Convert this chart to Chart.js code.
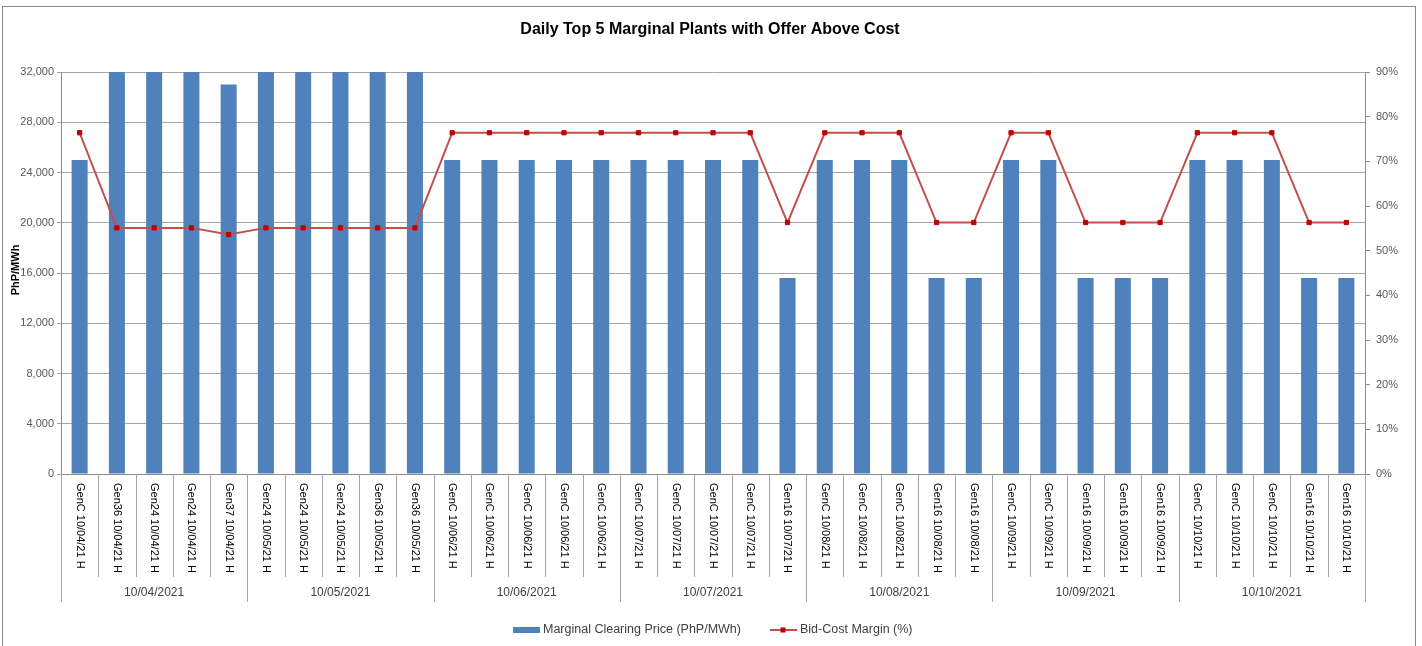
<!DOCTYPE html>
<html lang="en">
<head>
  <meta charset="UTF-8">
  <title>Daily Top 5 Marginal Plants with Offer Above Cost</title>
  <style>
    body { margin: 0; background: #fff; }
    canvas { display: block; }
  </style>
</head>
<body>
  <canvas id="myChart" width="1422" height="646"></canvas>

  <script src="https://cdn.jsdelivr.net/npm/chart.js"></script>
  <script>
    // chart data
    const plantLabels = [
      'GenC 10/04/21 H', 'Gen36 10/04/21 H', 'Gen24 10/04/21 H', 'Gen24 10/04/21 H', 'Gen37 10/04/21 H',
      'Gen24 10/05/21 H', 'Gen24 10/05/21 H', 'Gen24 10/05/21 H', 'Gen36 10/05/21 H', 'Gen36 10/05/21 H',
      'GenC 10/06/21 H', 'GenC 10/06/21 H', 'GenC 10/06/21 H', 'GenC 10/06/21 H', 'GenC 10/06/21 H',
      'GenC 10/07/21 H', 'GenC 10/07/21 H', 'GenC 10/07/21 H', 'GenC 10/07/21 H', 'Gen16 10/07/21 H',
      'GenC 10/08/21 H', 'GenC 10/08/21 H', 'GenC 10/08/21 H', 'Gen16 10/08/21 H', 'Gen16 10/08/21 H',
      'GenC 10/09/21 H', 'GenC 10/09/21 H', 'Gen16 10/09/21 H', 'Gen16 10/09/21 H', 'Gen16 10/09/21 H',
      'GenC 10/10/21 H', 'GenC 10/10/21 H', 'GenC 10/10/21 H', 'Gen16 10/10/21 H', 'Gen16 10/10/21 H'
    ];
    const dayLabels = ['10/04/2021', '10/05/2021', '10/06/2021', '10/07/2021', '10/08/2021', '10/09/2021', '10/10/2021'];
    const daySizes = [5, 5, 5, 5, 5, 5, 5];

    const clearingPrice = [
      25000, 32000, 32000, 32000, 31000,
      32000, 32000, 32000, 32000, 32000,
      25000, 25000, 25000, 25000, 25000,
      25000, 25000, 25000, 25000, 15600,
      25000, 25000, 25000, 15600, 15600,
      25000, 25000, 15600, 15600, 15600,
      25000, 25000, 25000, 15600, 15600
    ];
    const bidCostMargin = [
      0.764, 0.551, 0.551, 0.551, 0.536,
      0.551, 0.551, 0.551, 0.551, 0.551,
      0.764, 0.764, 0.764, 0.764, 0.764,
      0.764, 0.764, 0.764, 0.764, 0.563,
      0.764, 0.764, 0.764, 0.563, 0.563,
      0.764, 0.764, 0.563, 0.563, 0.563,
      0.764, 0.764, 0.764, 0.563, 0.563
    ];

    const FONT = '"Liberation Sans", Arial, sans-serif';
    const barColor = '#4f81bd';
    const lineColor = '#c0504d';
    const axisGray = '#8c8c8c';

    // draws title, frame, y title, two-level x axis and legend
    const excelBits = {
      id: 'excelBits',
      afterDraw(chart) {
        const ctx = chart.ctx;
        const x = chart.scales.x;
        const area = chart.chartArea;
        ctx.save();

        // outer frame
        ctx.strokeStyle = axisGray;
        ctx.lineWidth = 1;
        ctx.strokeRect(2.5, 6.5, 1413, 700);

        // title
        ctx.fillStyle = '#000';
        ctx.font = 'bold 16px ' + FONT;
        ctx.textAlign = 'center';
        ctx.textBaseline = 'middle';
        ctx.fillText('Daily Top 5 Marginal Plants with Offer Above Cost', 710, 30);

        // y axis title
        ctx.save();
        ctx.translate(16, 270);
        ctx.rotate(-Math.PI / 2);
        ctx.font = 'bold 11px ' + FONT;
        ctx.fillText('PhP/MWh', 0, 0);
        ctx.restore();

        // category separators
        const n = plantLabels.length;
        const step = (area.right - area.left) / n;
        ctx.strokeStyle = '#a6a6a6';
        const bounds = new Set([0]);
        let acc = 0;
        daySizes.forEach(s => { acc += s; bounds.add(acc); });
        for (let k = 0; k <= n; k++) {
          const px = Math.round(area.left + k * step) + 0.5;
          ctx.beginPath();
          ctx.moveTo(px, area.bottom);
          ctx.lineTo(px, bounds.has(k) ? 602 : 577);
          ctx.stroke();
        }

        // category labels, rotated clockwise
        ctx.fillStyle = '#000';
        ctx.font = '11px ' + FONT;
        ctx.textAlign = 'left';
        ctx.textBaseline = 'middle';
        plantLabels.forEach((lab, i) => {
          const px = x.getPixelForValue(i);
          ctx.save();
          ctx.translate(px, 483);
          ctx.rotate(Math.PI / 2);
          ctx.fillText(lab, 0, 0);
          ctx.restore();
        });

        // day group labels
        ctx.font = '12px ' + FONT;
        ctx.fillStyle = '#404040';
        ctx.textAlign = 'center';
        let start = 0;
        dayLabels.forEach((d, g) => {
          const mid = area.left + (start + daySizes[g] / 2) * step;
          ctx.fillText(d, mid, 593);
          start += daySizes[g];
        });

        // legend
        ctx.font = '12.5px ' + FONT;
        ctx.fillStyle = barColor;
        ctx.fillRect(513, 627, 27, 6);
        ctx.fillStyle = '#404040';
        ctx.textAlign = 'left';
        ctx.fillText('Marginal Clearing Price (PhP/MWh)', 543, 630);
        ctx.strokeStyle = lineColor;
        ctx.lineWidth = 2;
        ctx.beginPath();
        ctx.moveTo(770, 630);
        ctx.lineTo(797, 630);
        ctx.stroke();
        ctx.fillStyle = '#c00000';
        ctx.fillRect(780.5, 627.5, 5, 5);
        ctx.fillStyle = '#404040';
        ctx.fillText('Bid-Cost Margin (%)', 800, 630);

        ctx.restore();
      }
    };

    const ctx = document.getElementById('myChart').getContext('2d');
    new Chart(ctx, {
      data: {
        labels: plantLabels,
        datasets: [
          {
            type: 'line',
            label: 'Bid-Cost Margin (%)',
            data: bidCostMargin,
            yAxisID: 'y1',
            borderColor: lineColor,
            borderWidth: 2,
            tension: 0,
            pointStyle: 'rect',
            pointRadius: 3,
            pointBackgroundColor: '#c00000',
            pointBorderColor: '#c00000',
            pointBorderWidth: 1,
            order: 1
          },
          {
            type: 'bar',
            label: 'Marginal Clearing Price (PhP/MWh)',
            data: clearingPrice,
            yAxisID: 'y',
            backgroundColor: barColor,
            barPercentage: 0.5,
            categoryPercentage: 0.86,
            order: 2
          }
        ]
      },
      options: {
        responsive: false,
        animation: false,
        layout: { padding: { top: 72, left: 0, right: 0, bottom: 0 } },
        plugins: {
          legend: { display: false },
          title: { display: false },
          tooltip: { enabled: false }
        },
        scales: {
          x: {
            grid: { display: false },
            border: { display: true, color: axisGray },
            ticks: { display: false },
            afterFit(scale) { scale.height = 172; }
          },
          y: {
            position: 'left',
            min: 0,
            max: 32000,
            ticks: {
              stepSize: 4000,
              color: '#595959',
              font: { family: FONT, size: 11 },
              padding: 3,
              callback: v => v.toLocaleString('en-US')
            },
            grid: { color: '#a6a6a6', tickLength: 4 },
            border: { color: axisGray },
            afterFit(scale) { scale.width = 61; }
          },
          y1: {
            position: 'right',
            min: 0,
            max: 0.9,
            ticks: {
              stepSize: 0.1,
              color: '#595959',
              font: { family: FONT, size: 11 },
              padding: 6,
              callback: v => Math.round(v * 100) + '%'
            },
            grid: { drawOnChartArea: false, color: axisGray, tickLength: 5 },
            border: { color: axisGray },
            afterFit(scale) { scale.width = 57; }
          }
        }
      },
      plugins: [excelBits]
    });
  </script>
</body>
</html>
